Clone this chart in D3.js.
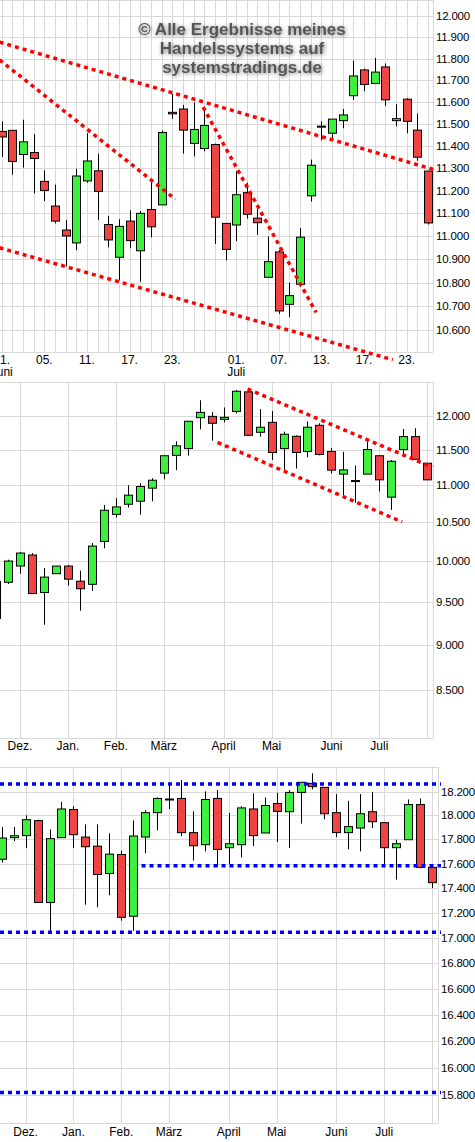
<!DOCTYPE html>
<html><head><meta charset="utf-8">
<script src="https://cdn.jsdelivr.net/npm/d3@7"></script>
<style>
body{margin:0;background:#fff;}
svg{display:block;font-family:"Liberation Sans",Arial,sans-serif;}
</style></head>
<body><div id="chart"></div>
<script>
// candles as [open, high, low, close]
const p1Candles = [
  [11465,11511,11350,11440],[11470,11470,11271,11330],[11361,11518,11302,11418],[11370,11453,11188,11343],
  [11241,11290,11154,11201],[11132,11227,11056,11066],[11027,11071,10869,11001],[10971,11297,10940,11265],
  [11243,11457,11235,11332],[11288,11365,11070,11196],[11051,11089,10952,10984],[10909,11074,10810,11043],
  [11066,11113,10948,10981],[10937,11110,10804,11100],[11117,11249,10996,11041],[11137,11469,11137,11460],
  [11552,11637,11522,11545],[11567,11586,11365,11471],[11411,11597,11353,11474],[11388,11572,11375,11492],
  [11406,11410,10967,11083],[11056,11056,10896,10943],[11049,11286,10979,11182],[11191,11235,11077,11096],
  [11079,11122,11006,11059],[10823,10999,10823,10890],[10932,10940,10668,10680],[10708,10800,10654,10745],
  [10793,11036,10782,10996],[11177,11338,11152,11313],[11489,11511,11425,11489],[11457,11521,11426,11521],
  [11514,11567,11480,11540],[11628,11791,11609,11719],[11747,11753,11648,11680],[11684,11803,11684,11737],
  [11761,11777,11581,11609],[11514,11589,11488,11523],[11612,11617,11457,11511],[11471,11546,11333,11349],
  [11287,11287,11051,11058]
];
const p1Ticks = [10600,10700,10800,10900,11000,11100,11200,11300,11400,11500,11600,11700,11800,11900,12000];
const p1DayLabels = [[0,"01."],[4,"05."],[8,"11."],[12,"17."],[16,"23."],[22,"01."],[26,"07."],[30,"13."],[34,"17."],[38,"23."]];
const p1MonthLabels = [[0,"Juni"],[22,"Juli"]];
// trend lines: [idx1, price1, idx2, price2]
const p1Lines = [[-0.2,11877,40.8,11290],[-0.2,11794,16.3,11162],[18.9,11576,29.5,10674],[-0.2,10950,36.7,10476]];

const p2Candles = [
  [9300,9742,9178,9742],[9733,10013,9712,9996],[9933,10110,9838,10097],[10072,10097,9596,9596],
  [9608,9908,9227,9796],[9838,9933,9838,9933],[9933,9946,9692,9771],[9746,9875,9390,9654],
  [9708,10225,9629,10186],[10246,10727,10157,10655],[10600,10818,10559,10700],[10736,10995,10691,10859],
  [10777,11023,10595,10978],[10955,11093,10777,11065],[11164,11411,11079,11411],[11416,11619,11206,11554],
  [11514,11916,11411,11916],[11970,12235,11797,12050],[11990,12055,11629,11886],[11945,12125,11900,11975],
  [12065,12395,12035,12375],[12365,12410,11703,11708],[11752,12100,11688,11827],[11900,12070,11350,11458],
  [11514,11762,11173,11723],[11693,11708,11229,11458],[11472,11911,11388,11827],[11856,11886,11416,11430],
  [11472,11525,11159,11206],[11150,11467,10860,11210],[11060,11271,10755,11060],[11150,11640,11150,11500],
  [11411,11411,10909,11070],[10832,11350,10659,11332],[11500,11802,11430,11689],[11689,11812,11360,11360],
  [11304,11304,11070,11070]
];
const p2Ticks = [8500,9000,9500,10000,10500,11000,11500,12000];
const p2Months = [[2,"Dez."],[6,"Jan."],[10,"Feb."],[14,"März"],[19,"April"],[23,"Mai"],[28,"Juni"],[32,"Juli"],[36,""]];
const p2Lines = [[21,12410,36.4,11248],[18.5,11603,33.9,10500]];

const p3Candles = [
  [17636,17903,17608,17811],[17814,17903,17786,17830],[17831,18000,17730,17964],[17956,17964,17284,17284],
  [17284,17883,17049,17806],[17814,18114,17814,18054],[18049,18077,17730,17839],[17819,17925,17266,17739],
  [17744,17925,17245,17511],[17519,17850,17342,17678],[17675,17706,17138,17165],[17173,17958,17057,17828],
  [17819,18043,17686,18023],[18023,18151,17875,18143],[18138,18266,18054,18138],[18143,18300,17828,17856],
  [17856,18034,17625,17747],[17756,18203,17700,18134],[18143,18214,17575,17717],[17731,18020,17594,17764],
  [17756,18077,17650,18063],[18054,18186,17744,17831],[17853,18151,17853,18083],[18100,18191,17778,18034],
  [18031,18214,17730,18194],[18194,18280,17931,18280],[18271,18357,18220,18243],[18237,18237,17966,18014],
  [18023,18180,17819,17856],[17856,18123,17717,17906],[17894,18180,17700,18014],[18031,18197,17894,17947],
  [17939,17939,17575,17731],[17731,17797,17469,17764],[17797,18134,17797,18091],[18091,18143,17561,17569],
  [17569,17569,17400,17444]
];
const p3Ticks = [15800,16000,16200,16400,16600,16800,17000,17200,17400,17600,17800,18000,18200];
const p3Months = p2Months;
// horizontal levels: [fromIdx, price]
const p3Levels = [[-0.2,18266],[11.7,17583],[-0.2,17046],[-0.2,15818]];

const W = 475, H = 1142;
const svg = d3.select("#chart").append("svg").attr("width", W).attr("height", H);

const tickText = v => { const s = String(v); return s.slice(0, s.length - 3) + "." + s.slice(-3); };

function drawPanel(p) {
  const g = svg.append("g");
  const x = d3.scaleLinear().domain([0, p.candles.length - 1]).range(p.xRange);
  const y = d3.scaleLog().domain(p.yDomain).range(p.yRange);
  const clipId = "clip" + p.id;
  svg.append("clipPath").attr("id", clipId).append("rect")
    .attr("x", 0).attr("y", p.top).attr("width", p.right).attr("height", p.bottom - p.top);

  // grid
  g.selectAll(".hg").data(p.ticks).enter().append("line")
    .attr("x1", 0).attr("x2", p.right).attr("y1", d => Math.round(y(d)) + 0.5).attr("y2", d => Math.round(y(d)) + 0.5)
    .attr("stroke", "#d9d9d9");
  g.selectAll(".vg").data(p.vGrid).enter().append("line")
    .attr("x1", d => Math.round(x(d)) + 0.5).attr("x2", d => Math.round(x(d)) + 0.5)
    .attr("y1", p.top).attr("y2", p.bottom).attr("stroke", "#d9d9d9");
  g.append("line").attr("x1", 0).attr("x2", p.right).attr("y1", p.top + 0.5).attr("y2", p.top + 0.5).attr("stroke", "#d9d9d9");
  g.append("line").attr("x1", 0).attr("x2", p.right).attr("y1", p.bottom + 0.5).attr("y2", p.bottom + 0.5).attr("stroke", "#d9d9d9");
  g.append("line").attr("x1", p.right + 0.5).attr("x2", p.right + 0.5).attr("y1", p.top).attr("y2", p.bottom).attr("stroke", "#d9d9d9");

  // axis labels
  g.selectAll(".yl").data(p.ticks).enter().append("text")
    .attr("x", p.right + 3).attr("y", d => y(d) + 4)
    .style("font-size", "11.5px").style("letter-spacing", "-0.2px").text(tickText);

  // candles
  const c = g.append("g").attr("clip-path", `url(#${clipId})`);
  const bw = 9;
  const cg = c.selectAll(".candle").data(p.candles).enter().append("g");
  cg.append("line")
    .attr("x1", (d, i) => Math.round(x(i)) + 0.5).attr("x2", (d, i) => Math.round(x(i)) + 0.5)
    .attr("y1", d => y(d[1])).attr("y2", d => y(d[2])).attr("stroke", "#000");
  cg.append("rect")
    .attr("x", (d, i) => Math.round(x(i)) - (bw - 1) / 2 + 0.5)
    .attr("y", d => y(Math.max(d[0], d[3])))
    .attr("width", bw - 1)
    .attr("height", d => Math.max(1, y(Math.min(d[0], d[3])) - y(Math.max(d[0], d[3]))))
    .attr("fill", d => Math.abs(d[3] - d[0]) < 4 ? "#000" : (d[3] > d[0] ? "#3ef03e" : "#f04444"))
    .attr("stroke", "#000");

  p.x = x; p.y = y; p.g = g;
  return p;
}

// ---- panel 1 (daily)
const P1 = drawPanel({ id: 1, candles: p1Candles, xRange: [1.7, 428], yDomain: [10600, 12000], yRange: [330, 16],
  top: 0, bottom: 352, right: 433, ticks: p1Ticks, vGrid: d3.range(0, 41) });
P1.g.selectAll(".tl").data(p1Lines).enter().append("line")
  .attr("x1", d => P1.x(d[0])).attr("y1", d => P1.y(d[1])).attr("x2", d => P1.x(d[2])).attr("y2", d => P1.y(d[3]))
  .attr("stroke", "#ff0000").attr("stroke-width", 3.5).attr("stroke-dasharray", "4,4");
P1.g.selectAll(".dl").data(p1DayLabels).enter().append("text")
  .attr("x", d => P1.x(d[0])).attr("y", 364).attr("text-anchor", "middle").style("font-size", "12px").text(d => d[1]);
P1.g.selectAll(".ml").data(p1MonthLabels).enter().append("text")
  .attr("x", d => P1.x(d[0])).attr("y", 376).attr("text-anchor", "middle").style("font-size", "12px").text(d => d[1]);

// watermark
const defs = svg.append("defs");
const f = defs.append("filter").attr("id", "sh").attr("x", "-10%").attr("y", "-30%").attr("width", "120%").attr("height", "160%");
f.append("feGaussianBlur").attr("in", "SourceAlpha").attr("stdDeviation", 2).attr("result", "b");
f.append("feOffset").attr("in", "b").attr("dx", 1).attr("dy", 1).attr("result", "o");
f.append("feComponentTransfer").attr("in", "o").attr("result", "o2").append("feFuncA").attr("type", "linear").attr("slope", 0.5);
const fm = f.append("feMerge"); fm.append("feMergeNode").attr("in", "o2"); fm.append("feMergeNode").attr("in", "SourceGraphic");
const wm = ["© Alle Ergebnisse meines", "Handelssystems auf", "systemstradings.de"];
svg.append("g").attr("filter", "url(#sh)").selectAll("text").data(wm).enter().append("text")
  .attr("x", 242).attr("y", (d, i) => 35 + i * 19).attr("text-anchor", "middle")
  .style("font-size", "17px").style("font-weight", "bold").attr("fill", "#555").text(d => d);

// ---- panel 2 (weekly)
const P2 = drawPanel({ id: 2, candles: p2Candles, xRange: [-4, 427.3], yDomain: [8500, 12000], yRange: [690, 415.7],
  top: 382, bottom: 738, right: 433, ticks: p2Ticks, vGrid: p2Months.map(d => d[0]) });
P2.g.selectAll(".tl").data(p2Lines).enter().append("line")
  .attr("x1", d => P2.x(d[0])).attr("y1", d => P2.y(d[1])).attr("x2", d => P2.x(d[2])).attr("y2", d => P2.y(d[3]))
  .attr("stroke", "#ff0000").attr("stroke-width", 3.5).attr("stroke-dasharray", "4,4");
P2.g.selectAll(".ml").data(p2Months).enter().append("text")
  .attr("x", d => P2.x(d[0])).attr("y", 750).attr("text-anchor", "middle").style("font-size", "12px").text(d => d[1]);

// ---- panel 3 (weekly)
const P3 = drawPanel({ id: 3, candles: p3Candles, xRange: [1.7, 432], yDomain: [15800, 18200], yRange: [1095, 791.7],
  top: 767, bottom: 1123, right: 438, ticks: p3Ticks, vGrid: p3Months.map(d => d[0]) });
P3.g.selectAll(".lv").data(p3Levels).enter().append("line")
  .attr("x1", d => Math.max(0, P3.x(d[0]))).attr("x2", 441).attr("y1", d => P3.y(d[1])).attr("y2", d => P3.y(d[1]))
  .attr("stroke", "#0000ff").attr("stroke-width", 3.5).attr("stroke-dasharray", "4,4");
P3.g.selectAll(".ml").data(p3Months).enter().append("text")
  .attr("x", d => P3.x(d[0])).attr("y", 1136).attr("text-anchor", "middle").style("font-size", "12px").text(d => d[1]);
</script></body></html>
